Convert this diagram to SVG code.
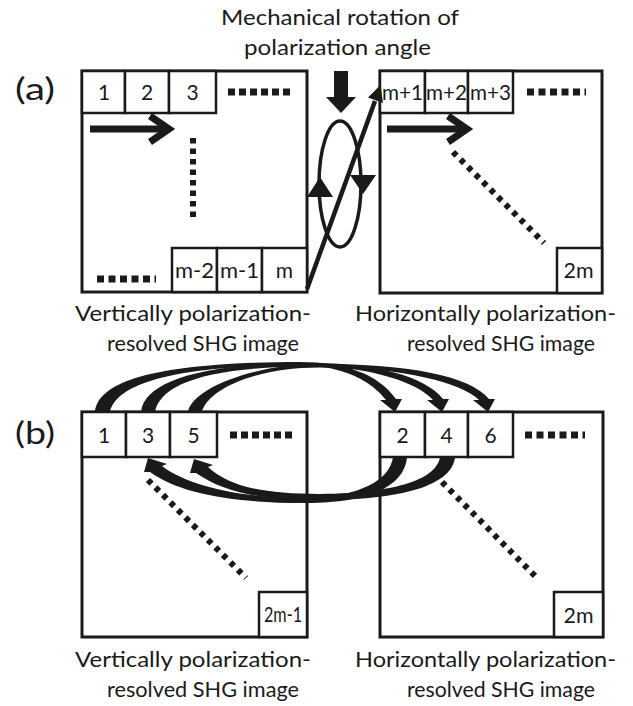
<svg xmlns="http://www.w3.org/2000/svg" width="633" height="706" viewBox="0 0 633 706">
  <style>
    .bg { fill: #ffffff; }
    .box { fill: #ffffff; stroke: #1a1a1a; stroke-width: 3; }
    .cell { fill: #ffffff; stroke: #1a1a1a; stroke-width: 2.5; }
    .t { font-family: Lato, "Open Sans", "Liberation Sans", sans-serif; fill: #1a1a1a; }
    .num { font-size: 21px; text-anchor: middle; }
    .lbl { font-size: 22px; }
    .dots { stroke: #1a1a1a; stroke-width: 7; fill: none; }
    .vdots { stroke: #1a1a1a; stroke-width: 6; stroke-dasharray: 5.5 5; fill: none; }
    .ddots { stroke: #1a1a1a; stroke-width: 6; stroke-dasharray: 5 5.6; fill: none; }
    .ink { fill: #1a1a1a; }
    .thick { stroke: #1a1a1a; stroke-width: 7; fill: none; }
  </style>
  <rect class="bg" x="0" y="0" width="633" height="706"/>

  <!-- title -->
  <g id="title">
    <text class="t lbl" x="221" y="25" textLength="238" lengthAdjust="spacingAndGlyphs">Mechanical rotation of</text>
    <text class="t lbl" x="244" y="55" textLength="187" lengthAdjust="spacingAndGlyphs">polarization angle</text>
  </g>

  <!-- panel labels -->
  <text id="label-a" class="t" x="15" y="100" font-size="31" textLength="40" lengthAdjust="spacingAndGlyphs">(a)</text>
  <text id="label-b" class="t" x="15" y="444" font-size="31" textLength="40" lengthAdjust="spacingAndGlyphs">(b)</text>

  <!-- (a) vertically polarized frame -->
  <g id="a-vertical">
    <rect class="box" x="82" y="71" width="225" height="221"/>
    <rect class="cell" x="82" y="71" width="43" height="42"/>
    <rect class="cell" x="125" y="71" width="44" height="42"/>
    <rect class="cell" x="169" y="71" width="47" height="42"/>
    <text class="t num" x="104" y="100">1</text>
    <text class="t num" x="147" y="100">2</text>
    <text class="t num" x="192.5" y="100">3</text>
    <line class="dots" x1="228" y1="92" x2="290" y2="92" stroke-dasharray="7 4"/>
    <line class="vdots" x1="193" y1="138" x2="193" y2="222"/>
    <line class="dots" x1="97" y1="279" x2="156" y2="279" stroke-dasharray="7 4.5"/>
    <rect class="cell" x="172" y="248" width="45" height="44"/>
    <rect class="cell" x="217" y="248" width="45" height="44"/>
    <rect class="cell" x="262" y="248" width="45" height="44"/>
    <text class="t num" x="194.5" y="278" textLength="39" lengthAdjust="spacingAndGlyphs">m-2</text>
    <text class="t num" x="239.5" y="278" textLength="39" lengthAdjust="spacingAndGlyphs">m-1</text>
    <text class="t num" x="284.5" y="278">m</text>
  </g>

  <!-- (a) horizontally polarized frame -->
  <g id="a-horizontal">
    <rect class="box" x="380" y="71" width="222" height="222"/>
    <rect class="cell" x="380" y="71" width="45" height="42"/>
    <rect class="cell" x="425" y="71" width="43" height="42"/>
    <rect class="cell" x="468" y="71" width="45" height="42"/>
    <text class="t num" x="402.5" y="100" textLength="41" lengthAdjust="spacingAndGlyphs">m+1</text>
    <text class="t num" x="446.5" y="100" textLength="41" lengthAdjust="spacingAndGlyphs">m+2</text>
    <text class="t num" x="490.5" y="100" textLength="41" lengthAdjust="spacingAndGlyphs">m+3</text>
    <line class="dots" x1="527" y1="92" x2="586" y2="92" stroke-dasharray="7 4.5"/>
    <line class="ddots" x1="453" y1="152" x2="544" y2="243"/>
    <rect class="cell" x="557" y="248" width="45" height="45"/>
    <text class="t num" x="578.5" y="278" textLength="30" lengthAdjust="spacingAndGlyphs">2m</text>
  </g>

  <!-- (a) captions -->
  <g id="a-captions">
    <text class="t lbl" x="75" y="321" textLength="236" lengthAdjust="spacingAndGlyphs">Vertically polarization-</text>
    <text class="t lbl" x="107" y="351" textLength="192" lengthAdjust="spacingAndGlyphs">resolved SHG image</text>
    <text class="t lbl" x="355" y="321" textLength="261" lengthAdjust="spacingAndGlyphs">Horizontally polarization-</text>
    <text class="t lbl" x="407" y="351" textLength="188" lengthAdjust="spacingAndGlyphs">resolved SHG image</text>
  </g>

  <!-- (b) vertically polarized frame -->
  <g id="b-vertical">
    <rect class="box" x="82" y="412" width="225" height="225"/>
    <rect class="cell" x="82" y="412" width="44" height="45"/>
    <rect class="cell" x="126" y="412" width="44" height="45"/>
    <rect class="cell" x="170" y="412" width="47" height="45"/>
    <text class="t num" x="104" y="443">1</text>
    <text class="t num" x="148" y="443">3</text>
    <text class="t num" x="193.5" y="443">5</text>
    <line class="dots" x1="230" y1="435" x2="292" y2="435" stroke-dasharray="7 4"/>
    <line class="ddots" x1="148" y1="480" x2="246" y2="578"/>
    <rect class="cell" x="259" y="592" width="48" height="45"/>
    <text class="t num" x="283" y="622" font-size="14" textLength="38" lengthAdjust="spacingAndGlyphs">2m-1</text>
  </g>

  <!-- (b) horizontally polarized frame -->
  <g id="b-horizontal">
    <rect class="box" x="380" y="412" width="223" height="225"/>
    <rect class="cell" x="380" y="412" width="45" height="45"/>
    <rect class="cell" x="425" y="412" width="43" height="45"/>
    <rect class="cell" x="468" y="412" width="45" height="45"/>
    <text class="t num" x="402.5" y="443">2</text>
    <text class="t num" x="446.5" y="443">4</text>
    <text class="t num" x="490.5" y="443">6</text>
    <line class="dots" x1="525" y1="435" x2="585" y2="435" stroke-dasharray="7 4.5"/>
    <line class="ddots" x1="442" y1="482" x2="537" y2="578"/>
    <rect class="cell" x="554" y="592" width="49" height="45"/>
    <text class="t num" x="578.5" y="623" textLength="30" lengthAdjust="spacingAndGlyphs">2m</text>
  </g>

  <!-- (b) captions -->
  <g id="b-captions">
    <text class="t lbl" x="75" y="667" textLength="236" lengthAdjust="spacingAndGlyphs">Vertically polarization-</text>
    <text class="t lbl" x="107" y="697" textLength="192" lengthAdjust="spacingAndGlyphs">resolved SHG image</text>
    <text class="t lbl" x="355" y="667" textLength="261" lengthAdjust="spacingAndGlyphs">Horizontally polarization-</text>
    <text class="t lbl" x="407" y="697" textLength="188" lengthAdjust="spacingAndGlyphs">resolved SHG image</text>
  </g>

  <!-- connectors -->
  <g id="connectors">
    <!-- raster scan direction arrows -->
    <line class="thick" x1="90" y1="129" x2="166" y2="129"/>
    <polyline class="thick" points="150,116 169,129 150,142"/>
    <line class="thick" x1="387" y1="129" x2="464" y2="129"/>
    <polyline class="thick" points="448,116 467,129 448,142"/>

    <!-- rotation of the polarizer -->
    <polygon class="ink" points="334,71 348,71 348,97 356,97 341,113 326,97 334,97"/>
    <ellipse cx="340" cy="184" rx="21" ry="63" fill="none" stroke="#1a1a1a" stroke-width="3.5"/>
    <polygon class="ink" points="320,177 333,197 307,197"/>
    <polygon class="ink" points="350,175 376,175 363,194"/>

    <!-- jump from pixel m to pixel m+1 -->
    <line x1="307" y1="289" x2="375" y2="101" stroke="#1a1a1a" stroke-width="4.5"/>
    <polygon class="ink" points="380.5,85 383,103 368,97.5"/>

    <!-- (b) interleaved order, upper arcs: 1 to 2, 3 to 4, 5 to 6 -->
    <path class="ink" d="M 95,412 C 98,380 160,362 300,362 C 345,362 378,374 396,399 L 402,399 L 395,412 L 380,400 L 386,400 C 372,382 345,365.5 300,365.5 C 170,365.5 116,385 110,412 Z"/>
    <path class="ink" d="M 141,412 C 144,382 200,363 310,363 C 375,363 425,376 443,399 L 449,399 L 442,412 L 427,400 L 433,400 C 418,383 372,366.5 310,366.5 C 205,366.5 160,385 155,412 Z"/>
    <path class="ink" d="M 188,412 C 191,390 250,364 320,364 C 410,364 470,376 489,399 L 495,399 L 488,412 L 473,400 L 479,400 C 462,383 405,367.5 320,367.5 C 250,367.5 206,392 202,412 Z"/>

    <!-- (b) lower arcs: 2 to 3, 4 to 5 -->
    <path class="ink" d="M 393,457 C 390,480 360,497 305,498 C 235,498 185,484 162,466 L 167,464 L 148,458 L 144,472 L 150,472 C 180,494 235,503 305,503 C 378,503 405,482 407,457 Z"/>
    <path class="ink" d="M 440,457 C 437,478 400,493 320,494 C 258,494 228,485 208,467 L 213,465 L 194,459 L 190,473 L 196,473 C 225,493 262,500 320,500 C 412,500 453,482 455,457 Z"/>
  </g>
</svg>
